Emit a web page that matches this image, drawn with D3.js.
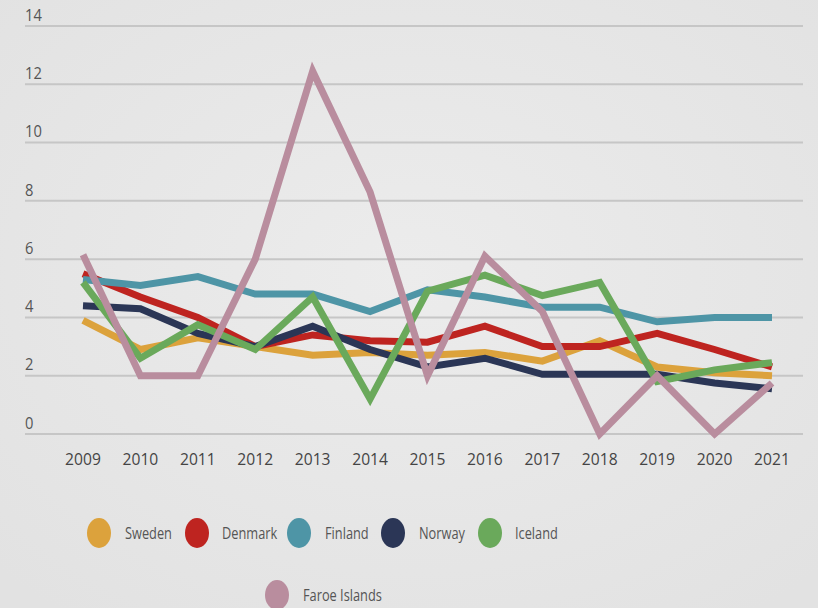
<!DOCTYPE html>
<html>
<head>
<meta charset="utf-8">
<script src="https://cdn.jsdelivr.net/npm/d3@7"></script>
<style>
  html, body { margin: 0; padding: 0; background: #e7e7e7; }
  svg { display: block; }
</style>
</head>
<body>
<div id="app"></div>
<script>
const years = [2009, 2010, 2011, 2012, 2013, 2014, 2015, 2016, 2017, 2018, 2019, 2020, 2021];
const yTicks = [0, 2, 4, 6, 8, 10, 12, 14];

const sweden  = [3.9, 2.9, 3.3, 3.0, 2.7, 2.8, 2.7, 2.8, 2.5, 3.2, 2.3, 2.1, 2.0];
const denmark = [5.5, 4.7, 4.0, 3.0, 3.4, 3.2, 3.15, 3.7, 3.0, 3.0, 3.45, 2.9, 2.3];
const finland = [5.3, 5.1, 5.4, 4.8, 4.8, 4.2, 4.95, 4.7, 4.35, 4.35, 3.85, 4.0, 4.0];
const norway  = [4.4, 4.3, 3.45, 3.0, 3.7, 2.9, 2.3, 2.6, 2.05, 2.05, 2.05, 1.75, 1.55];
const iceland = [5.2, 2.6, 3.75, 2.9, 4.7, 1.2, 4.9, 5.45, 4.75, 5.2, 1.8, 2.2, 2.45];
const faroe   = [6.15, 2.0, 2.0, 6.0, 12.45, 8.3, 2.0, 6.1, 4.2, 0, 2.0, 0, 1.75];

const seriesNames = ['Sweden', 'Denmark', 'Finland', 'Norway', 'Iceland', 'Faroe Islands'];
const seriesValues = [sweden, denmark, finland, norway, iceland, faroe];
const seriesColors = ['#dca23c', '#be2420', '#4e95a6', '#2b3656', '#6aa95b', '#b98d9e'];

const W = 818, H = 608;
const svg = d3.select('#app').append('svg').attr('width', W).attr('height', H);

// soft background
const defs = svg.append('defs');
const grad = defs.append('radialGradient').attr('id', 'bg').attr('cx', '50%').attr('cy', '45%').attr('r', '70%');
grad.append('stop').attr('offset', '0%').attr('stop-color', '#ececec');
grad.append('stop').attr('offset', '100%').attr('stop-color', '#e2e2e2');
svg.append('rect').attr('width', W).attr('height', H).attr('fill', 'url(#bg)');

const x = d3.scalePoint().domain(years).range([83, 772]);
const y = d3.scaleLinear().domain([0, 14]).range([434, 26]);

// gridlines
svg.append('g')
  .selectAll('line')
  .data(yTicks)
  .join('line')
  .attr('x1', 25).attr('x2', 803)
  .attr('y1', d => y(d)).attr('y2', d => y(d))
  .attr('stroke', '#c6c6c6')
  .attr('stroke-width', 2);

// y labels
svg.append('g')
  .selectAll('text')
  .data(yTicks)
  .join('text')
  .attr('transform', d => `translate(25, ${y(d) - 11}) scale(0.92, 1)`)
  .attr('dominant-baseline', 'central')
  .attr('font-family', 'Open Sans, sans-serif')
  .attr('font-size', 16)
  .attr('fill', '#555')
  .text(d => d);

// x labels
svg.append('g')
  .selectAll('text')
  .data(years)
  .join('text')
  .attr('transform', d => `translate(${x(d)}, 459) scale(0.92, 1)`)
  .attr('text-anchor', 'middle')
  .attr('dominant-baseline', 'central')
  .attr('font-family', 'Open Sans, sans-serif')
  .attr('font-size', 17)
  .attr('fill', '#444')
  .text(d => d);

// lines
const line = d3.line()
  .x((d, i) => x(years[i]))
  .y(d => y(d));

svg.append('g')
  .selectAll('path')
  .data(seriesValues)
  .join('path')
  .attr('d', d => line(d))
  .attr('fill', 'none')
  .attr('stroke', (d, i) => seriesColors[i])
  .attr('stroke-width', 7)
  .attr('stroke-linejoin', 'miter')
  .attr('stroke-linecap', 'butt');

// legend
const legendPos = [
  { cx: 99, cy: 533, tx: 125 },
  { cx: 197, cy: 533, tx: 222 },
  { cx: 299, cy: 533, tx: 325 },
  { cx: 393, cy: 533, tx: 419 },
  { cx: 490, cy: 533, tx: 515 },
  { cx: 277, cy: 595, tx: 303 }
];

const legend = svg.append('g')
  .selectAll('g')
  .data(seriesNames)
  .join('g');

legend.append('ellipse')
  .attr('cx', (d, i) => legendPos[i].cx)
  .attr('cy', (d, i) => legendPos[i].cy)
  .attr('rx', 12)
  .attr('ry', 15)
  .attr('fill', (d, i) => seriesColors[i]);

legend.append('text')
  .attr('transform', (d, i) => `translate(${legendPos[i].tx}, ${legendPos[i].cy}) scale(0.8, 1)`)
  .attr('dominant-baseline', 'central')
  .attr('font-family', 'Open Sans, sans-serif')
  .attr('font-size', 16)
  .attr('fill', '#555')
  .text(d => d);
</script>
</body>
</html>
